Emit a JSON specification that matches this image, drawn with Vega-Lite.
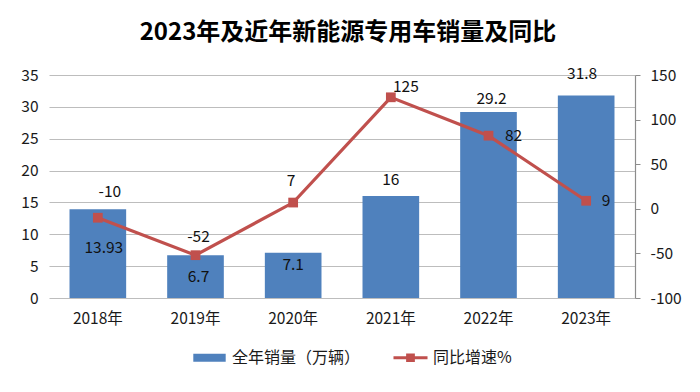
{
  "$schema": "https://vega.github.io/schema/vega-lite/v6.json",
  "autosize": {"type": "none"},
  "padding": {"left": 49, "top": 75, "right": 65, "bottom": 94},
  "width": 586,
  "height": 223,
  "background": "white",
  "config": {
    "view": {"stroke": null},
    "font": "Noto Sans CJK SC",
    "axis": {"labelFont": "Noto Sans CJK SC", "labelFontSize": 15.5, "labelColor": "#1a1a1a"},
    "text": {"font": "Noto Sans CJK SC", "fontSize": 15.5, "color": "#111"}
  },
  "title": {
    "text": "2023年及近年新能源专用车销量及同比",
    "font": "Noto Sans CJK SC",
    "fontSize": 24,
    "fontWeight": "bold",
    "color": "#000",
    "anchor": "middle",
    "dx": 6,
    "offset": 22
  },
  "data": {
    "values": [
      {"year": "2018年", "sales": 13.93, "yoy": -10},
      {"year": "2019年", "sales": 6.7, "yoy": -52},
      {"year": "2020年", "sales": 7.1, "yoy": 7},
      {"year": "2021年", "sales": 16, "yoy": 125},
      {"year": "2022年", "sales": 29.2, "yoy": 82},
      {"year": "2023年", "sales": 31.8, "yoy": 9}
    ]
  },
  "encoding": {
    "x": {
      "field": "year",
      "type": "nominal",
      "sort": null,
      "scale": {"paddingInner": 0.42, "paddingOuter": 0.21},
      "axis": {"title": null, "labelAngle": 0, "ticks": false, "domain": false, "labelPadding": 13, "labelFontSize": 15.5}
    }
  },
  "layer": [
    {
      "encoding": {
        "y": {
          "field": "sales",
          "type": "quantitative",
          "scale": {"domain": [0, 35], "nice": false},
          "axis": {"title": null, "values": [0, 5, 10, 15, 20, 25, 30, 35], "grid": true, "gridColor": "#BDBDBD", "gridWidth": 1.2, "domain": false, "ticks": false, "labelPadding": 11}
        }
      },
      "layer": [
        {
          "mark": {"type": "bar"},
          "encoding": {
            "color": {
              "datum": "全年销量（万辆）",
              "type": "nominal",
              "scale": {"domain": ["全年销量（万辆）", "同比增速%"], "range": ["#4F81BD", "#C0504D"]},
              "legend": {
                "title": null,
                "orient": "none",
                "direction": "horizontal",
                "legendX": 144,
                "legendY": 266,
                "symbolSize": 1050,
                "labelFontSize": 16,
                "labelFont": "Noto Sans CJK SC",
                "labelColor": "#1a1a1a",
                "labelOffset": 6,
                "columnPadding": 32,
                "encode": {
                  "symbols": {
                    "update": {
                      "shape": {"signal": "datum.value === '全年销量（万辆）' ? 'M-1,-0.25H1V0.25H-1Z' : 'M-1.05,-0.09H-0.27V-0.27H0.27V-0.09H1.05V0.09H0.27V0.27H-0.27V0.09H-1.05Z'"},
                      "fill": {"scale": "color", "field": "value"},
                      "strokeWidth": {"value": 0},
                      "opacity": {"value": 1}
                    }
                  }
                }
              }
            }
          }
        },
        {"transform": [{"filter": "datum.year == '2018年'"}], "mark": {"type": "text", "dy": 39, "dx": 6}, "encoding": {"text": {"field": "sales"}}},
        {"transform": [{"filter": "datum.year == '2019年'"}], "mark": {"type": "text", "dy": 22, "dx": 3}, "encoding": {"text": {"field": "sales"}}},
        {"transform": [{"filter": "datum.year == '2020年'"}], "mark": {"type": "text", "dy": 12}, "encoding": {"text": {"field": "sales"}}},
        {"transform": [{"filter": "datum.year == '2021年'"}], "mark": {"type": "text", "dy": -16}, "encoding": {"text": {"field": "sales"}}},
        {"transform": [{"filter": "datum.year == '2022年'"}], "mark": {"type": "text", "dy": -13, "dx": 3}, "encoding": {"text": {"field": "sales"}}},
        {"transform": [{"filter": "datum.year == '2023年'"}], "mark": {"type": "text", "dy": -21, "dx": -4}, "encoding": {"text": {"field": "sales"}}}
      ]
    },
    {
      "encoding": {
        "y": {
          "field": "yoy",
          "type": "quantitative",
          "scale": {"domain": [-100, 150], "nice": false, "zero": false},
          "axis": {"title": null, "orient": "right", "values": [-100, -50, 0, 50, 100, 150], "labelExpr": "toString(datum.value)", "grid": false, "domain": true, "domainColor": "#8C8C8C", "domainWidth": 1.2, "ticks": true, "tickColor": "#8C8C8C", "tickSize": 5, "labelPadding": 10}
        }
      },
      "layer": [
        {
          "mark": {"type": "line", "strokeWidth": 3.2, "point": {"shape": "square", "size": 95, "filled": true, "color": "#C0504D", "opacity": 1}},
          "encoding": {"color": {"datum": "同比增速%", "type": "nominal"}}
        },
        {"transform": [{"filter": "datum.year == '2018年'"}], "mark": {"type": "text", "dy": -26, "dx": 12}, "encoding": {"text": {"field": "yoy"}}},
        {"transform": [{"filter": "datum.year == '2019年'"}], "mark": {"type": "text", "dy": -18, "dx": 3}, "encoding": {"text": {"field": "yoy"}}},
        {"transform": [{"filter": "datum.year == '2020年'"}], "mark": {"type": "text", "dy": -22, "dx": -2}, "encoding": {"text": {"field": "yoy"}}},
        {"transform": [{"filter": "datum.year == '2021年'"}], "mark": {"type": "text", "dy": -10, "dx": 15}, "encoding": {"text": {"field": "yoy"}}},
        {"transform": [{"filter": "datum.year == '2022年'"}], "mark": {"type": "text", "dy": 0, "dx": 25}, "encoding": {"text": {"field": "yoy"}}},
        {"transform": [{"filter": "datum.year == '2023年'"}], "mark": {"type": "text", "dy": 0, "dx": 20}, "encoding": {"text": {"field": "yoy"}}}
      ]
    }
  ],
  "resolve": {"scale": {"y": "independent"}}
}
